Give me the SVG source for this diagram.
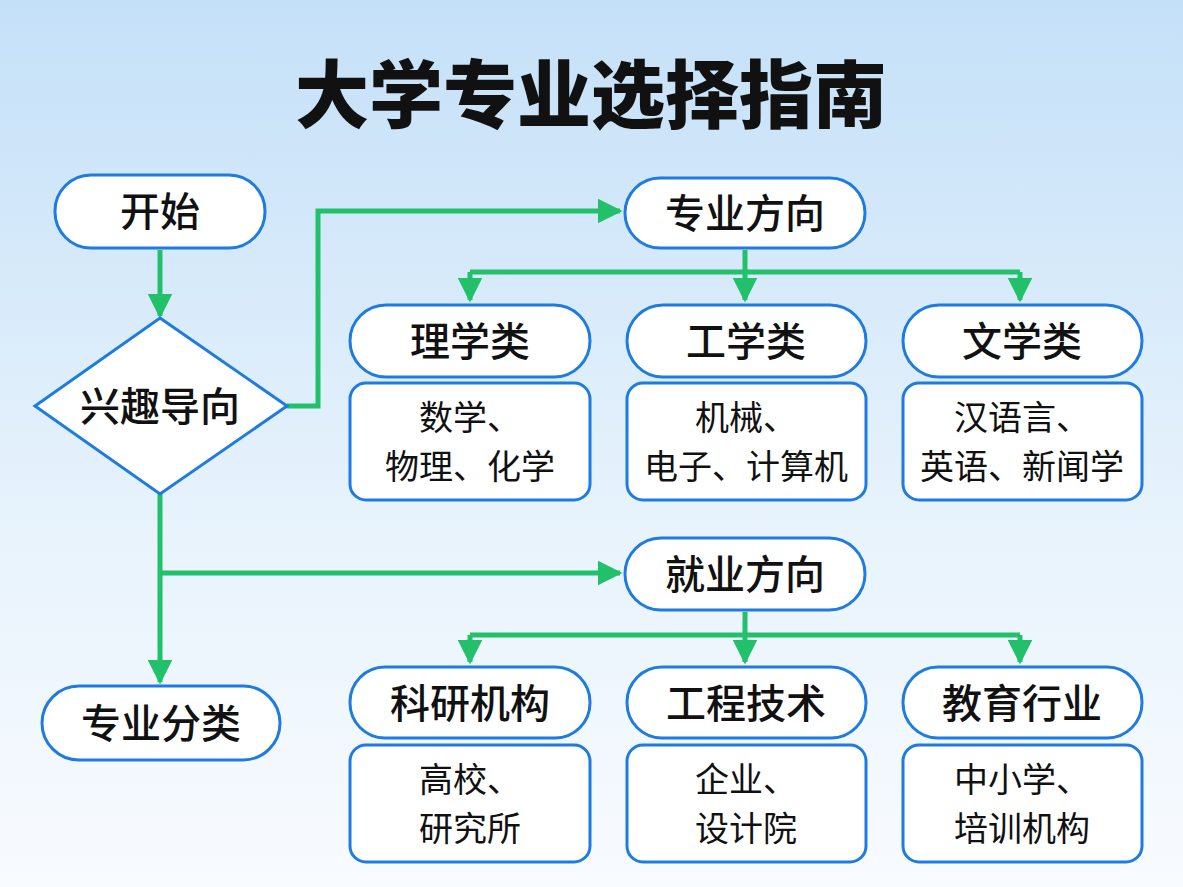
<svg xmlns="http://www.w3.org/2000/svg" width="1183" height="887" viewBox="0 0 1183 887">
<defs>
<linearGradient id="bg" x1="0" y1="0" x2="0" y2="1"><stop offset="0" stop-color="#c4e0f8"/><stop offset="0.6" stop-color="#e8f3fc"/><stop offset="1" stop-color="#f8fbff"/></linearGradient>
<marker id="ar" viewBox="0 0 10 10" refX="9" refY="5" markerWidth="5" markerHeight="5" orient="auto"><path d="M0,0L10,5L0,10z" fill="#22c06a"/></marker>
<style>
.n{fill:#fff;stroke:#1e7be0;stroke-width:3}
.t{font-family:"Noto Sans CJK SC",sans-serif;font-size:40px;font-weight:500;fill:#111;text-anchor:middle}
.d{font-family:"Noto Sans CJK SC",sans-serif;font-size:34px;fill:#111;text-anchor:middle}
.c{fill:none;stroke:#22c06a;stroke-width:5;marker-end:url(#ar)}
.l{fill:none;stroke:#22c06a;stroke-width:5}
</style>
</defs>
<rect width="1183" height="887" fill="url(#bg)"/>
<text x="591" y="122" style="font-family:'Noto Sans CJK SC',sans-serif;font-size:74px;font-weight:900;fill:#111;text-anchor:middle">大学专业选择指南</text>
<g id="connectors">
<path class="c" d="M160,250V316"/>
<path class="c" d="M287,406H318V211H620"/>
<path class="c" d="M160,494V682"/>
<path class="c" d="M160,573H620"/>
<path class="c" d="M745,250V300"/>
<path class="l" d="M470,272H1020"/>
<path class="c" d="M470,272V300"/>
<path class="c" d="M1020,272V300"/>
<path class="c" d="M745,612V662"/>
<path class="l" d="M470,635H1020"/>
<path class="c" d="M470,635V662"/>
<path class="c" d="M1020,635V662"/>
</g>
<g id="start"><rect class="n" x="55" y="175" width="210" height="73" rx="36"/><text class="t" x="160" y="226">开始</text></g>
<g id="interest"><path class="n" d="M160,318L287,406L160,494L35,406Z"/><text class="t" x="160" y="421">兴趣导向</text></g>
<g id="category"><rect class="n" x="42" y="686" width="238" height="74" rx="37"/><text class="t" x="161" y="738">专业分类</text></g>
<g id="major"><rect class="n" x="625" y="178" width="240" height="70" rx="35"/><text class="t" x="745" y="228">专业方向</text></g>
<g id="sci"><rect class="n" x="350" y="305" width="240" height="72" rx="36"/><text class="t" x="470" y="356">理学类</text></g>
<g id="sci-d"><rect class="n" x="350" y="383" width="240" height="117" rx="16"/><text class="d" x="470" y="430">数学、</text><text class="d" x="470" y="479">物理、化学</text></g>
<g id="eng"><rect class="n" x="627" y="305" width="239" height="72" rx="36"/><text class="t" x="746" y="356">工学类</text></g>
<g id="eng-d"><rect class="n" x="627" y="383" width="239" height="117" rx="16"/><text class="d" x="746" y="430">机械、</text><text class="d" x="746" y="479">电子、计算机</text></g>
<g id="art"><rect class="n" x="903" y="305" width="239" height="72" rx="36"/><text class="t" x="1022" y="356">文学类</text></g>
<g id="art-d"><rect class="n" x="903" y="383" width="239" height="117" rx="16"/><text class="d" x="1022" y="430">汉语言、</text><text class="d" x="1022" y="479">英语、新闻学</text></g>
<g id="job"><rect class="n" x="625" y="538" width="240" height="72" rx="36"/><text class="t" x="745" y="589">就业方向</text></g>
<g id="res"><rect class="n" x="350" y="667" width="240" height="71" rx="35"/><text class="t" x="470" y="718">科研机构</text></g>
<g id="res-d"><rect class="n" x="350" y="745" width="240" height="117" rx="16"/><text class="d" x="470" y="792">高校、</text><text class="d" x="470" y="841">研究所</text></g>
<g id="tech"><rect class="n" x="627" y="667" width="239" height="71" rx="35"/><text class="t" x="746" y="718">工程技术</text></g>
<g id="tech-d"><rect class="n" x="627" y="745" width="239" height="117" rx="16"/><text class="d" x="746" y="792">企业、</text><text class="d" x="746" y="841">设计院</text></g>
<g id="edu"><rect class="n" x="903" y="667" width="239" height="71" rx="35"/><text class="t" x="1022" y="718">教育行业</text></g>
<g id="edu-d"><rect class="n" x="903" y="745" width="239" height="117" rx="16"/><text class="d" x="1022" y="792">中小学、</text><text class="d" x="1022" y="841">培训机构</text></g>
</svg>
